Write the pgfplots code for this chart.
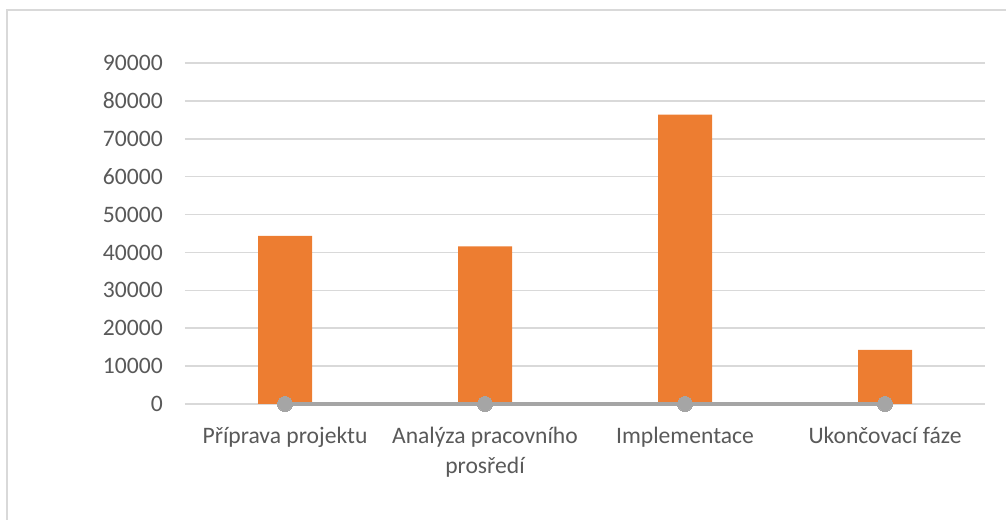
\documentclass[border=0pt]{standalone}
\usepackage{pgfplots}
\pgfplotsset{compat=1.18}
\usepackage{fontspec}
\setmainfont{Carlito}
\definecolor{barorange}{HTML}{ED7D31}
\definecolor{linegray}{HTML}{A5A5A5}
\definecolor{txtgray}{HTML}{595959}
\definecolor{gridgray}{HTML}{D9D9D9}
\begin{document}
\begin{tikzpicture}[x=1pt,y=1pt]
\useasboundingbox (-138.75,-87) rectangle (615.75,303);
\draw[gridgray, line width=1.1pt] (-133.5,-87) -- (-133.5,295.5) -- (620,295.5);
\begin{axis}[
  at={(0pt,0pt)}, anchor=south west,
  scale only axis, width=600pt, height=255.75pt,
  xmin=-0.5, xmax=3.5, ymin=0, ymax=90000,
  ytick distance=10000,
  ymajorgrids, grid style={gridgray, line width=1.1pt},
  major tick length=0pt,
  xtick={0,1,2,3},
  xticklabels={Příprava projektu, {Analýza pracovního\\prosředí}, Implementace, Ukončovací fáze},
  scaled y ticks=false,
  /pgf/number format/assume math mode=true,
  yticklabel={\pgfmathprintnumber[fixed,1000 sep={}]{\tick}},
  tick label style={font=\fontsize{17.7}{22.5}\selectfont, text=txtgray},
  yticklabel style={anchor=east, inner sep=0pt, xshift=-16.5pt},
  xticklabel style={anchor=north, align=center, inner sep=0pt, yshift=-17pt},
  axis line style={draw=none},
  clip=false,
]
\addplot[ybar, bar width=40.5pt, fill=barorange, draw=none] coordinates {
  (0,44400) (1,41600) (2,76400) (3,14300)
};
\addplot[linegray, line width=3pt, mark=*, mark size=5.6pt, mark options={fill=linegray, draw=linegray, line width=0pt}] coordinates {
  (0,0) (1,0) (2,0) (3,0)
};
\end{axis}
\end{tikzpicture}
\end{document}
